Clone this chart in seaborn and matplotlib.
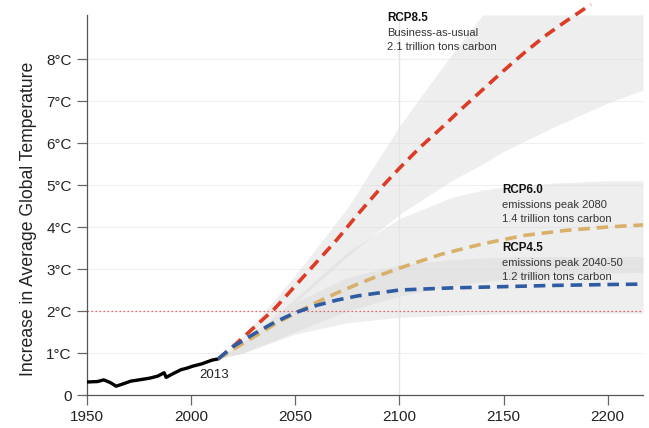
import numpy as np
import pandas as pd
import matplotlib
matplotlib.use("Agg")
import matplotlib.pyplot as plt
import seaborn as sns

# ---------------- data ----------------
hist_years = [1950, 1955, 1958, 1961, 1964, 1967, 1971, 1975, 1980, 1984, 1987, 1988, 1991, 1995, 1998, 2001, 2005, 2010, 2013]
hist_temp  = [0.31, 0.32, 0.36, 0.30, 0.21, 0.26, 0.33, 0.36, 0.40, 0.45, 0.53, 0.42, 0.50, 0.60, 0.64, 0.69, 0.74, 0.83, 0.86]

rcp85_years = [2013, 2020, 2030, 2040, 2050, 2060, 2070, 2080, 2090, 2100, 2110, 2120, 2130, 2140, 2150, 2160, 2170, 2180, 2192]
rcp85_temp  = [0.86, 1.15, 1.6, 2.05, 2.6, 3.15, 3.7, 4.3, 4.87, 5.4, 5.9, 6.35, 6.82, 7.27, 7.72, 8.15, 8.55, 8.9, 9.3]

rcp60_years = [2013, 2020, 2030, 2040, 2050, 2060, 2070, 2080, 2090, 2100, 2120, 2140, 2160, 2180, 2200, 2217]
rcp60_temp  = [0.86, 1.08, 1.38, 1.68, 1.95, 2.2, 2.43, 2.64, 2.84, 3.02, 3.35, 3.6, 3.8, 3.92, 4.0, 4.05]

rcp45_years = [2013, 2020, 2030, 2040, 2050, 2060, 2070, 2080, 2090, 2100, 2125, 2150, 2175, 2200, 2217]
rcp45_temp  = [0.86, 1.15, 1.45, 1.73, 1.96, 2.13, 2.26, 2.36, 2.43, 2.5, 2.55, 2.58, 2.61, 2.63, 2.64]

band_years  = [2013, 2025, 2050, 2075, 2100, 2125, 2140, 2150, 2175, 2200, 2217]
rcp85_upper = [0.86, 1.4, 2.85, 4.45, 6.4, 8.1, 9.05, 9.05, 9.05, 9.05, 9.05]
rcp85_lower = [0.86, 1.2, 2.2, 3.3, 4.3, 5.1, 5.5, 5.8, 6.4, 6.95, 7.26]
rcp60_upper = [0.86, 1.25, 2.3, 3.4, 4.2, 4.7, 4.88, 4.95, 5.05, 5.1, 5.1]
rcp60_lower = [0.86, 1.0, 1.5, 2.0, 2.35, 2.6, 2.7, 2.75, 2.85, 2.9, 2.92]
rcp45_upper = [0.86, 1.2, 2.2, 2.8, 3.1, 3.22, 3.26, 3.28, 3.3, 3.3, 3.3]
rcp45_lower = [0.86, 1.0, 1.45, 1.72, 1.85, 1.9, 1.92, 1.93, 1.95, 1.95, 1.95]

y_ticks = [0, 1, 2, 3, 4, 5, 6, 7, 8]
y_tick_labels = ["0", "1°C", "2°C", "3°C", "4°C", "5°C", "6°C", "7°C", "8°C"]
x_ticks = [1950, 2000, 2050, 2100, 2150, 2200]

labels = {
    "RCP8.5": ["Business-as-usual", "2.1 trillion tons carbon"],
    "RCP6.0": ["emissions peak 2080", "1.4 trillion tons carbon"],
    "RCP4.5": ["emissions peak 2040-50", "1.2 trillion tons carbon"],
}

# ---------------- figure ----------------
sns.set_style("white")
plt.rcParams["font.family"] = ["Liberation Sans", "DejaVu Sans"]

fig = plt.figure(figsize=(6.49, 4.28), dpi=100)
ax = fig.add_axes([0.1341, 0.0771, 0.8567, 0.9126])

XMIN, XMAX, YMIN, YMAX = 1950, 2217, 0, 9.3
TOP = 9.05

# faint gridlines
for t in y_ticks[1:]:
    ax.axhline(t, color="#f0f0f0", lw=0.8, zorder=0)

# uncertainty bands
band_col = "#d8d8d8"
for up, lo in [(rcp85_upper, rcp85_lower), (rcp60_upper, rcp60_lower), (rcp45_upper, rcp45_lower)]:
    ax.fill_between(band_years, lo, up, color=band_col, alpha=0.42, lw=0, zorder=1)

# 2100 vertical line
ax.plot([2100, 2100], [0, TOP], color="#e4e4e4", lw=1.0, zorder=1)
# 2°C threshold
ax.axhline(2, color="#e8585c", lw=0.9, ls=(0, (1.2, 2.0)), zorder=2)

# historical
hist = pd.DataFrame({"year": hist_years, "temp": hist_temp})
sns.lineplot(data=hist, x="year", y="temp", color="black", lw=2.4, ax=ax, zorder=5)

# scenarios
scen = [
    (rcp85_years, rcp85_temp, "#dc3b26"),
    (rcp60_years, rcp60_temp, "#d8b06a"),
    (rcp45_years, rcp45_temp, "#2f5ba3"),
]
for yrs, tmp, col in scen:
    df = pd.DataFrame({"year": yrs, "temp": tmp})
    sns.lineplot(data=df, x="year", y="temp", color=col, lw=2.6, ax=ax, zorder=6)
    ax.lines[-1].set_dashes((3.2, 1.9))
    ax.lines[-1].set_clip_on(False)

# annotations
def block(x, y, key):
    ax.text(x, y, key, fontsize=8.4, fontweight="bold", color="#111111", va="center", ha="left")
    ax.text(x, y - 0.36, labels[key][0], fontsize=8, color="#333333", va="center", ha="left")
    ax.text(x, y - 0.70, labels[key][1], fontsize=8, color="#333333", va="center", ha="left")

block(2094, 8.98, "RCP8.5")
block(2149.5, 4.88, "RCP6.0")
block(2149.5, 3.5, "RCP4.5")
ax.text(2011, 0.47, "2013", fontsize=9.5, color="#222222", ha="center", va="center")

# axes styling
ax.set_xlim(XMIN, XMAX)
ax.set_ylim(YMIN, YMAX)
ax.set_xticks(x_ticks)
ax.set_xticklabels([str(v) for v in x_ticks])
ax.set_yticks(y_ticks)
ax.set_yticklabels(y_tick_labels)
ax.set_xlabel("")
ax.set_ylabel("Increase in Average Global Temperature", fontsize=12.7, color="#222222", labelpad=7)
ax.yaxis.label.set_y(0.45)
for s in ["top", "right"]:
    ax.spines[s].set_visible(False)
ax.spines["left"].set_bounds(0, TOP)
ax.spines["left"].set_color("#555555")
ax.spines["bottom"].set_color("#555555")
ax.spines["left"].set_linewidth(0.9)
ax.spines["bottom"].set_linewidth(0.9)
ax.tick_params(axis="both", direction="out", length=7, width=0.9, color="#666666",
               labelsize=11, labelcolor="#222222", left=True, bottom=True, pad=4)

fig.savefig("out.png", dpi=100)
